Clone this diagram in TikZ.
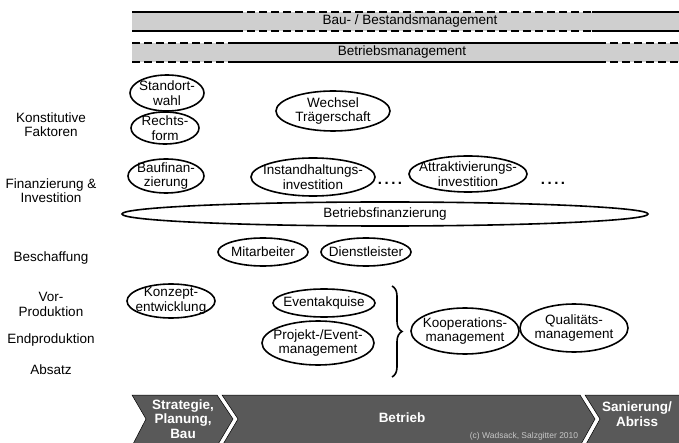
\documentclass[tikz,border=0pt]{standalone}
\usepackage{fontspec}
\setmainfont{Liberation Sans}
\usetikzlibrary{decorations.pathreplacing}

\begin{document}
\begin{tikzpicture}[x=1pt,y=-1pt,font=\fontsize{13.5}{14.5}\selectfont,
		every node/.style={align=center,inner sep=0pt},
		ring/.style={line width=1.6pt},
		solidline/.style={line width=1.4pt},
		gapline/.style={line width=1.4pt,dash pattern=on 8pt off 4pt},
		chevron/.style={fill=black!65,draw=black,line width=0.5pt},
		phase/.style={text=white,font=\bfseries\fontsize{13.5}{14.5}\selectfont}]
		\useasboundingbox (0,0) rectangle (679,443);
		% Management-Balken
		\fill[black!19] (132,12) rectangle (682,31);
		\fill[black!19] (132,43) rectangle (682,62);
		\coordinate (A1) at (132,12);
		\coordinate (A2) at (235,12);
		\coordinate (A3) at (592,12);
		\coordinate (A4) at (682,12);
		\coordinate (B1) at (132,31);
		\coordinate (B2) at (235,31);
		\coordinate (B3) at (592,31);
		\coordinate (B4) at (682,31);
		\coordinate (C1) at (132,43);
		\coordinate (C2) at (235,43);
		\coordinate (C3) at (598,43);
		\coordinate (C4) at (682,43);
		\coordinate (D1) at (132,62);
		\coordinate (D2) at (235,62);
		\coordinate (D3) at (598,62);
		\coordinate (D4) at (682,62);
		\draw[solidline] (A1) to (A2) (A3) to (A4) (B1) to (B2) (B3) to (B4);
		\draw[gapline] (A2) to (A3) (B2) to (B3);
		\draw[gapline] (C1) to (C2) (C3) to (C4) (D1) to (D2) (D3) to (D4);
		\draw[solidline] (C2) to (C3) (D2) to (D3);
		\node (bau) at (410,21.5) {Bau- / Bestandsmanagement};
		\node (betrieb) at (402,52.5) {Betriebsmanagement};
		% Zeilen links
		\node (konst) at (51,124.5) {Konstitutive\\Faktoren};
		\node (finanz) at (51,190.5) {Finanzierung \&\\Investition};
		\node (beschaff) at (51,258) {Beschaffung};
		\node (vorprod) at (51,304.5) {Vor-\\Produktion};
		\node (endprod) at (51,340) {Endproduktion};
		\node (absatz) at (51,370) {Absatz};
		% Ovale
		\node (stand) at (167,93) {Standort-\\wahl};
		\draw[ring] (stand.center) ellipse (37pt and 18pt);
		\node (recht) at (165,128) {Rechts-\\form};
		\draw[ring] (recht.center) ellipse (34pt and 16pt);
		\node (wechsel) at (333,111) {Wechsel\\Trägerschaft};
		\draw[ring] (wechsel.center) ellipse (57pt and 20pt);
		\node (baufin) at (166,176) {Baufinan-\\zierung};
		\draw[ring] (baufin.center) ellipse (38pt and 17pt);
		\node (instand) at (313,177) {Instandhaltungs-\\investition};
		\draw[ring] (instand.center) ellipse (62pt and 19pt);
		\node (attrakt) at (468,174) {Attraktivierungs-\\investition};
		\draw[ring] (attrakt.center) ellipse (59pt and 18pt);
		\node[font=\bfseries\fontsize{15}{15}\selectfont] (dots1) at (390,183) {.\,.\,.\,.};
		\node[font=\bfseries\fontsize{15}{15}\selectfont] (dots2) at (553,183) {.\,.\,.\,.};
		\node (betrfin) at (385,214) {Betriebsfinanzierung};
		\draw[ring] (betrfin.center) ellipse (263pt and 12pt);
		\node (mitarb) at (263,252) {Mitarbeiter};
		\draw[ring] (mitarb.center) ellipse (45pt and 14pt);
		\node (dienst) at (366,252) {Dienstleister};
		\draw[ring] (dienst.center) ellipse (45pt and 14pt);
		\node (konzept) at (171,301) {Konzept-\\entwicklung};
		\draw[ring] (konzept.center) ellipse (44pt and 17pt);
		\node (event) at (324,303) {Eventakquise};
		\draw[ring] (event.center) ellipse (51pt and 14pt);
		\node (projekt) at (318,343) {Projekt-/Event-\\management};
		\draw[ring] (projekt.center) ellipse (56pt and 22pt);
		\node (koop) at (465,331) {Kooperations-\\management};
		\draw[ring] (koop.center) ellipse (54pt and 23pt);
		\node (qual) at (574,328) {Qualitäts-\\management};
		\draw[ring] (qual.center) ellipse (54pt and 24pt);
		% Klammer
		\coordinate (P) at (392,286);
		\coordinate (Q) at (392,377);
		\draw[line width=1.6pt,decorate,decoration={brace,amplitude=10pt}] (P) to (Q);
		% Phasen
		\draw[chevron] (132,395) -- (217,395) -- (233,419) -- (217,446) -- (132,446) -- (146,419) -- cycle;
		\draw[chevron] (222,395) -- (580,395) -- (595,419) -- (580,446) -- (222,446) -- (238,419) -- cycle;
		\draw[chevron] (585,395) -- (684,395) -- (684,446) -- (585,446) -- (600,419) -- cycle;
		\node[phase] (strat) at (183,419) {Strategie,\\Planung,\\Bau};
		\node[phase] (betr) at (402,418) {Betrieb};
		\node[phase] (sanier) at (637,414) {Sanierung/\\Abriss};
		\node[text=black!22,font=\fontsize{8.5}{9}\selectfont] (copy) at (524,436) {(c) Wadsack, Salzgitter 2010};
	\end{tikzpicture}
\end{document}
